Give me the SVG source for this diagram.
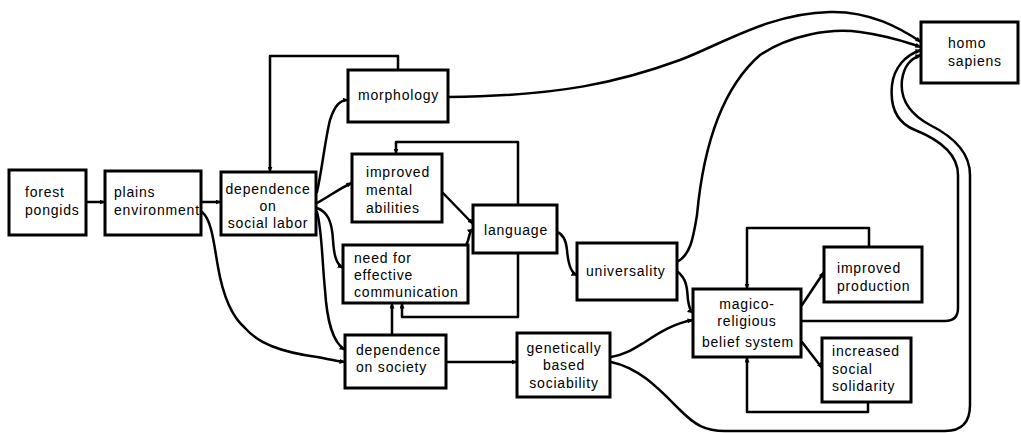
<svg xmlns="http://www.w3.org/2000/svg" width="1021" height="433" viewBox="0 0 1021 433">
<style>
.box{fill:#fff;stroke:#000;stroke-width:3}
.t{font-family:"Liberation Sans",Arial,sans-serif;font-size:14px;letter-spacing:0.8px;fill:#000}
.c{text-anchor:middle}
.ln{fill:none;stroke:#000;stroke-width:2.5;stroke-linejoin:round;stroke-linecap:round}
</style>
<defs>
<marker id="ah" viewBox="0 0 6 5" refX="5.5" refY="2.5" markerWidth="6" markerHeight="5" markerUnits="userSpaceOnUse" orient="auto">
<path d="M0,0 L6,2.5 L0,5 z" fill="#000"/>
</marker>
</defs>
<rect width="1021" height="433" fill="#fff"/>
<g id="connectors">
<path class="ln" marker-end="url(#ah)" d="M86,202 H105"/>
<path class="ln" marker-end="url(#ah)" d="M201,202 H221"/>
<path class="ln" marker-end="url(#ah)" d="M398,70 V56 H270 V172"/>
<path class="ln" marker-end="url(#ah)" d="M317,192 C322,170 325,140 330,120 C335,105 340,100 348,100"/>
<path class="ln" marker-end="url(#ah)" d="M317,203 C330,196 340,188 352,183"/>
<path class="ln" marker-end="url(#ah)" d="M317,208 C328,212 332,222 333,240 C334,255 336,264 343,268"/>
<path class="ln" marker-end="url(#ah)" d="M317,212 C322,230 322,260 325,290 C327,320 332,342 345,350"/>
<path class="ln" marker-end="url(#ah)" d="M202,212 C212,220 214,245 218,267 C222,290 230,315 245,328 C258,343 280,352 317,357 C328,359 336,361 345,362"/>
<path class="ln" marker-end="url(#ah)" d="M443,193 L473,224"/>
<path class="ln" marker-end="url(#ah)" d="M466,245 C470,240 468,232 473,229"/>
<path class="ln" marker-end="url(#ah)" d="M518,205 V142 H396 V154"/>
<path class="ln" marker-end="url(#ah)" d="M518,253 V317 H402 V303"/>
<path class="ln" marker-end="url(#ah)" d="M392,335 V303"/>
<path class="ln" marker-end="url(#ah)" d="M446,362 H517"/>
<path class="ln" marker-end="url(#ah)" d="M557,232 C563,234 566,240 567,250 C568,262 570,273 577,275"/>
<path class="ln" marker-end="url(#ah)" d="M678,272 C688,280 687,292 688,300 C689,307 690,311 693,313"/>
<path class="ln" marker-end="url(#ah)" d="M611,357 C625,355 635,348 645,342 C660,332 675,323 693,320"/>
<path class="ln" marker-end="url(#ah)" d="M448,97 C560,96 620,82 680,60 C720,45 770,13 830,12 C870,11 900,28 921,42"/>
<path class="ln" marker-end="url(#ah)" d="M677,262 C690,255 693,240 697,215 C703,150 720,90 760,55 C790,35 830,28 860,32 C890,36 905,42 921,47"/>
<path class="ln" marker-end="url(#ah)" d="M801,321 H945 Q958,321 958,308 V175 C958,155 940,140 915,130 C895,122 890,105 892,85 C894,68 905,55 921,50"/>
<path class="ln" marker-end="url(#ah)" d="M611,362 C640,368 660,390 680,410 C695,425 705,431 725,431 H945 Q970,431 970,405 V175 C970,150 950,135 930,125 C908,113 900,97 902,80 C904,66 910,59 921,55"/>
<path class="ln" marker-end="url(#ah)" d="M802,305 L824,272"/>
<path class="ln" marker-end="url(#ah)" d="M802,342 L822,368"/>
<path class="ln" marker-end="url(#ah)" d="M869,247 V228 H747 V289"/>
<path class="ln" marker-end="url(#ah)" d="M868,402 V412 H747 V357"/>
</g>
<g id="forest-pongids"><rect class="box" x="9" y="170" width="77" height="65"/><text class="t" x="25" y="197">forest</text><text class="t" x="25" y="215">pongids</text></g>
<g id="plains-environment"><rect class="box" x="105" y="171" width="96" height="64"/><text class="t" x="114" y="197">plains</text><text class="t" x="114" y="215">environment</text></g>
<g id="dependence-social-labor"><rect class="box" x="221" y="172" width="95" height="63"/><text class="t c" x="268" y="194">dependence</text><text class="t c" x="268" y="211">on</text><text class="t c" x="268" y="228">social labor</text></g>
<g id="morphology"><rect class="box" x="348" y="70" width="100" height="52"/><text class="t" x="358" y="100">morphology</text></g>
<g id="improved-mental-abilities"><rect class="box" x="352" y="154" width="90" height="68"/><text class="t" x="366" y="177">improved</text><text class="t" x="366" y="195">mental</text><text class="t" x="366" y="213">abilities</text></g>
<g id="language"><rect class="box" x="473" y="205" width="84" height="48"/><text class="t" x="484" y="235">language</text></g>
<g id="need-communication"><rect class="box" x="343" y="245" width="125" height="58"/><text class="t" x="354" y="263">need for</text><text class="t" x="354" y="280">effective</text><text class="t" x="354" y="297">communication</text></g>
<g id="dependence-society"><rect class="box" x="345" y="335" width="101" height="53"/><text class="t" x="356" y="355">dependence</text><text class="t" x="356" y="372">on society</text></g>
<g id="universality"><rect class="box" x="577" y="243" width="100" height="57"/><text class="t" x="586" y="276">universality</text></g>
<g id="genetic-sociability"><rect class="box" x="517" y="333" width="93" height="64"/><text class="t c" x="564" y="353">genetically</text><text class="t c" x="564" y="370">based</text><text class="t c" x="564" y="388">sociability</text></g>
<g id="magico-religious"><rect class="box" x="693" y="289" width="108" height="68"/><text class="t c" x="747" y="309">magico-</text><text class="t c" x="747" y="326">religious</text><text class="t c" x="748" y="347">belief system</text></g>
<g id="improved-production"><rect class="box" x="824" y="247" width="98" height="55"/><text class="t" x="837" y="273">improved</text><text class="t" x="837" y="291">production</text></g>
<g id="social-solidarity"><rect class="box" x="822" y="338" width="89" height="64"/><text class="t" x="832" y="356">increased</text><text class="t" x="832" y="374">social</text><text class="t" x="832" y="391">solidarity</text></g>
<g id="homo-sapiens"><rect class="box" x="921" y="22" width="97" height="61"/><text class="t" x="948" y="48">homo</text><text class="t" x="948" y="66">sapiens</text></g>
</svg>
